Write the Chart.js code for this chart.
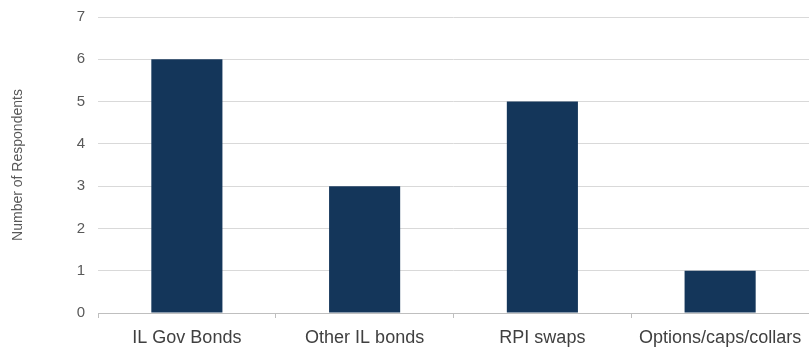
<!DOCTYPE html>
<html>
<head>
<meta charset="utf-8">
<script src="https://cdn.jsdelivr.net/npm/chart.js@4/dist/chart.umd.min.js"></script>
<style>
  html, body { margin: 0; padding: 0; background: #ffffff; }
  #wrap { width: 809px; height: 347px; position: relative; }
</style>
</head>
<body>
<div id="wrap"><canvas id="chart"></canvas></div>
<script>
// Instruments used by respondents
const categories = ['IL Gov Bonds', 'Other IL bonds', 'RPI swaps', 'Options/caps/collars'];
const respondents = [6, 3, 5, 1];
const yTicks = [0, 1, 2, 3, 4, 5, 6, 7];

const navy = '#14365A';
const textGrey = '#595959';

new Chart(document.getElementById('chart'), {
  type: 'bar',
  data: {
    labels: categories,
    datasets: [{
      data: respondents,
      backgroundColor: navy,
      borderWidth: 0,
      categoryPercentage: 1.0,
      barPercentage: 0.4
    }]
  },
  options: {
    responsive: true,
    maintainAspectRatio: false,
    animation: false,
    layout: { padding: { top: 17, right: 0, bottom: 0, left: 10 } },
    plugins: {
      legend: { display: false },
      tooltip: { enabled: false }
    },
    scales: {
      x: {
        offset: true,
        grid: {
          offset: true,
          drawOnChartArea: false,
          drawTicks: true,
          tickLength: 5,
          color: '#bfbfbf'
        },
        border: { display: true, color: '#bfbfbf', width: 1 },
        ticks: {
          color: '#404040',
          font: { family: '"Liberation Sans", Arial, sans-serif', size: 18 },
          padding: 9,
          maxRotation: 0
        },
        afterFit: (s) => { s.height = 34; s.paddingLeft = 0; s.paddingRight = 0; }
      },
      y: {
        min: 0,
        max: 7,
        afterBuildTicks: (s) => { s.ticks = yTicks.map(v => ({ value: v })); },
        grid: { color: '#d9d9d9', drawTicks: false },
        border: { display: false },
        ticks: {
          color: textGrey,
          font: { family: '"Liberation Sans", Arial, sans-serif', size: 15 },
          padding: 13
        },
        title: {
          display: true,
          text: 'Number of Respondents',
          color: textGrey,
          font: { family: '"Liberation Sans", Arial, sans-serif', size: 14 },
          padding: { top: 0, bottom: 0 }
        },
        afterFit: (s) => { s.width = 88; s.paddingTop = 0; s.paddingBottom = 0; }
      }
    }
  }
});
</script>
</body>
</html>
